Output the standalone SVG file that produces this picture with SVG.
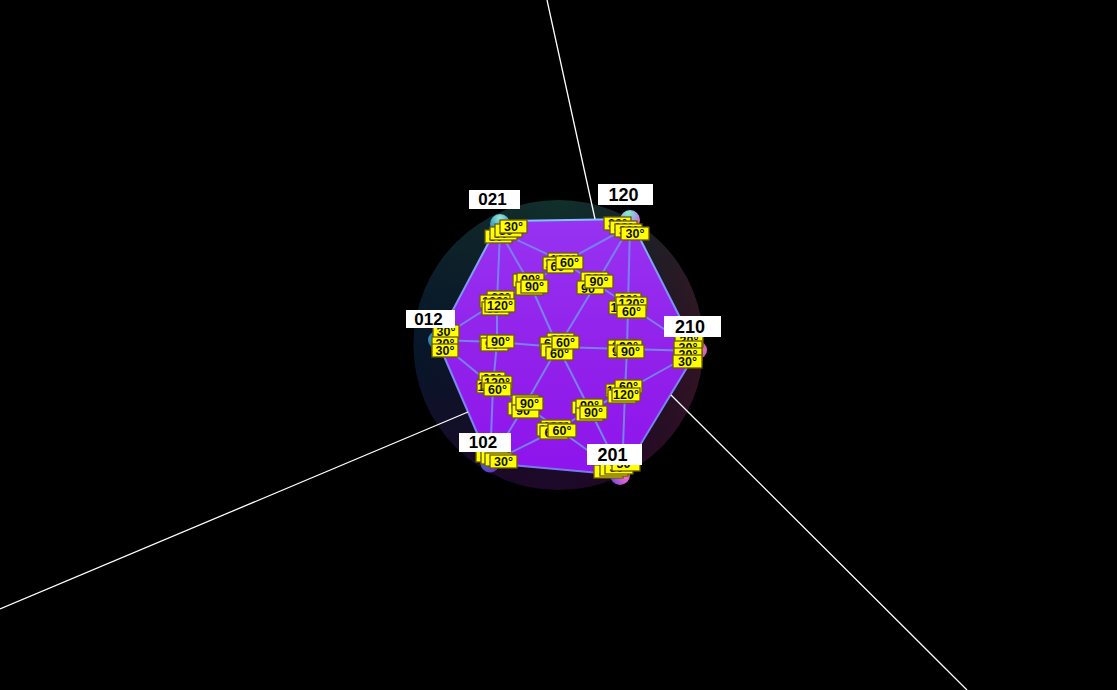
<svg xmlns="http://www.w3.org/2000/svg" width="1117" height="690" viewBox="0 0 1117 690">
<style>
.e{stroke:#7880f2;stroke-width:2;fill:none}
.w{stroke:#fff;stroke-width:1.3;fill:none}
.y rect{fill:#ff0;stroke:#6a5a10;stroke-width:1.300;height:13px}
.y text{font:bold 12.500px "Liberation Sans",Arial,sans-serif;fill:#111;text-anchor:middle}
.n rect{fill:#fff}
.n text{font:bold 17px "Liberation Sans",Arial,sans-serif;fill:#000;text-anchor:middle}
.n text.b{font-size:18px}
</style>
<defs>
<linearGradient id="v" x1="0" y1="0" x2="0" y2="1"><stop offset="0" stop-color="#10302b"/><stop offset=".5" stop-color="#0a1a26"/><stop offset="1" stop-color="#1e0828"/></linearGradient>
<linearGradient id="h" x1="0" y1="0" x2="1" y2="0"><stop offset="0" stop-color="#001030" stop-opacity=".35"/><stop offset=".5" stop-color="#200020" stop-opacity="0"/><stop offset="1" stop-color="#501020" stop-opacity=".55"/></linearGradient>
<linearGradient id="p" x1="0" y1="0" x2="0" y2="1"><stop offset="0" stop-color="#9733f2"/><stop offset=".5" stop-color="#9222ea"/><stop offset="1" stop-color="#8e14ec"/></linearGradient>
<linearGradient id="o" x1="0" y1="0" x2="0" y2="1"><stop offset="0" stop-color="#80c0f8"/><stop offset=".25" stop-color="#7c98f4"/><stop offset="1" stop-color="#7878f0"/></linearGradient>
<radialGradient id="s1" cx=".5" cy=".2" r=".8"><stop offset="0" stop-color="#a0e8d8"/><stop offset=".6" stop-color="#40a8c8"/><stop offset="1" stop-color="#4070c0"/></radialGradient>
<radialGradient id="s2" cx=".4" cy=".15" r=".8"><stop offset="0" stop-color="#80f0c8"/><stop offset=".55" stop-color="#a0a0e8"/><stop offset="1" stop-color="#f060b0"/></radialGradient>
<radialGradient id="s3" cx=".3" cy=".4" r=".8"><stop offset="0" stop-color="#30a0b0"/><stop offset="1" stop-color="#3050c0"/></radialGradient>
<radialGradient id="s4" cx=".7" cy=".5" r=".8"><stop offset="0" stop-color="#f070b0"/><stop offset="1" stop-color="#9040d0"/></radialGradient>
<radialGradient id="s5" cx=".3" cy=".5" r=".8"><stop offset="0" stop-color="#3070d0"/><stop offset="1" stop-color="#8020c0"/></radialGradient>
<radialGradient id="s6" cx=".8" cy=".6" r=".9"><stop offset="0" stop-color="#f070c0"/><stop offset=".6" stop-color="#a050e0"/><stop offset="1" stop-color="#4040d0"/></radialGradient>
</defs>
<rect width="1117" height="690" fill="#000"/>
<g id="sphere">
<circle cx="558.500" cy="345" r="145" fill="url(#v)"/>
<circle cx="558.500" cy="345" r="145" fill="url(#h)"/>
</g>
<g id="spheres">
<circle cx="500" cy="224" r="10" fill="url(#s1)"/>
<circle cx="630" cy="220" r="10" fill="url(#s2)"/>
<circle cx="437" cy="340" r="9" fill="url(#s3)"/>
<circle cx="698" cy="350" r="9" fill="url(#s4)"/>
<circle cx="490" cy="463" r="9.500" fill="url(#s5)"/>
<circle cx="620" cy="475" r="10" fill="url(#s6)"/>
</g>
<g id="face">
<path d="M500 221L630 219L697 351L622 475L490 463L437 340Z" fill="url(#p)" stroke="url(#o)" stroke-width="2" stroke-linejoin="round"/>
</g>
<g id="connectors">
<path class="w" d="M547 0L595 219M0 609L468 412M967 690L671 395"/>
<path class="e" d="M500 232L497 302M500 232L530 284M500 232L564 262M630 226L564 262M630 226L596 284M630 226L628 305M437 340L497 302M437 340L497 342M437 340L493 386M697 351L628 305M697 351L627 349M697 351L625 391M490 463L493 386M490 463L525 405M490 463L558 429M622 475L558 429M622 475L590 410M622 475L625 391M497 302V342L493 386M628 305L627 349L625 391M497 342L558 347L627 349M530 284L558 347M596 284L558 347M525 405L558 347M590 410L558 347M564 262L530 284M564 262L596 284M596 284L628 305M497 302L530 284M493 386L525 405M525 405L558 429M590 410L558 429M590 410L625 391"/>
</g>
<g id="v021" class="y">
<rect x="485" y="230" width="27" height="13"/><text x="498.500" y="240.500">30°</text>
<rect x="490" y="227" width="27" height="13"/><text x="503.500" y="237.500">30°</text>
<rect x="495" y="224" width="27" height="13"/><text x="508.500" y="234.500">30°</text>
<rect x="500" y="220" width="27" height="13"/><text x="513.500" y="230.500">30°</text>
</g>
<g id="v120" class="y">
<rect x="604" y="217" width="27" height="13"/><text x="617.500" y="227.500">30°</text>
<rect x="610" y="221" width="27" height="13"/><text x="623.500" y="231.500">30°</text>
<rect x="615" y="224" width="27" height="13"/><text x="628.500" y="234.500">30°</text>
<rect x="621" y="227" width="28" height="13"/><text x="635" y="238">30°</text>
</g>
<g id="v012" class="y">
<rect x="433" y="325" width="26" height="13"/><text x="446" y="335.500">30°</text>
<rect x="432" y="337" width="26" height="13"/><text x="445" y="347.500">30°</text>
<rect x="432" y="344" width="26" height="13"/><text x="445" y="354.500">30°</text>
</g>
<g id="v210" class="y">
<rect x="675" y="334" width="28" height="13"/><text x="689" y="344.500">30°</text>
<rect x="674" y="341" width="28" height="13"/><text x="688" y="351.500">30°</text>
<rect x="674" y="348" width="28" height="13"/><text x="688" y="358.500">30°</text>
<rect x="673" y="355" width="29" height="13"/><text x="687.500" y="365.500">30°</text>
</g>
<g id="v102" class="y">
<rect x="476" y="449" width="27" height="13"/><text x="489.500" y="459.500">30°</text>
<rect x="481" y="451" width="27" height="13"/><text x="494.500" y="461.500">30°</text>
<rect x="485" y="453" width="27" height="13"/><text x="498.500" y="463.500">30°</text>
<rect x="490" y="455" width="27" height="13"/><text x="503.500" y="465.500">30°</text>
</g>
<g id="v201" class="y">
<rect x="594" y="465" width="29" height="13"/><text x="608.500" y="475.500">30°</text>
<rect x="600" y="463" width="28" height="13"/><text x="614" y="473.500">30°</text>
<rect x="605" y="461" width="28" height="13"/><text x="619" y="471.500">30°</text>
<rect x="612" y="458" width="28" height="13"/><text x="626" y="467.500">30°</text>
</g>
<g id="cA" class="y">
<rect x="548" y="253" width="30" height="13"/><text x="563" y="263.500">120°</text>
<rect x="543" y="257" width="30" height="13"/><text x="558" y="267.500">120°</text>
<rect x="547" y="260" width="27" height="13"/><text x="560" y="270.500">60°</text>
<rect x="556" y="256" width="27" height="13"/><text x="569.500" y="266.500">60°</text>
</g>
<g id="cB" class="y">
<rect x="513" y="274" width="27" height="13"/><text x="526.500" y="284.500">90°</text>
<rect x="517" y="273" width="27" height="13"/><text x="530.500" y="283.500">90°</text>
<rect x="516" y="282" width="27" height="13"/><text x="529.500" y="292.500">90°</text>
<rect x="521" y="280" width="27" height="13"/><text x="534.500" y="290.500">90°</text>
</g>
<g id="cC" class="y">
<rect x="581" y="272" width="27" height="13"/><text x="594.500" y="282.500">90°</text>
<rect x="577" y="281" width="27" height="13"/><text x="590.500" y="292.500">90°</text>
<rect x="585" y="275" width="28" height="13"/><text x="599" y="285.500">90°</text>
</g>
<g id="cD" class="y">
<rect x="487" y="291" width="27" height="13"/><text x="500.500" y="301.500">60°</text>
<rect x="480" y="295" width="30" height="13"/><text x="495" y="305.500">120°</text>
<rect x="482" y="302" width="27" height="13"/><text x="495.500" y="312.500">60°</text>
<rect x="485" y="299" width="30" height="13"/><text x="500" y="309.500">120°</text>
</g>
<g id="cE" class="y">
<rect x="615" y="293" width="26" height="13"/><text x="628" y="303.500">60°</text>
<rect x="609" y="301" width="29" height="13"/><text x="623.500" y="311.500">120°</text>
<rect x="616" y="297" width="31" height="13"/><text x="631.500" y="307.500">120°</text>
<rect x="617" y="305" width="29" height="13"/><text x="631.500" y="315.500">60°</text>
</g>
<g id="cF" class="y">
<rect x="480" y="335" width="27" height="13"/><text x="493.500" y="345.500">90°</text>
<rect x="481" y="338" width="27" height="13"/><text x="494.500" y="348.500">90°</text>
<rect x="487" y="335" width="27" height="13"/><text x="500.500" y="345.500">90°</text>
</g>
<g id="cG" class="y">
<rect x="547" y="333" width="27" height="13"/><text x="560.500" y="343.500">60°</text>
<rect x="540" y="337" width="27" height="13"/><text x="553.500" y="347.500">60°</text>
<rect x="541" y="344" width="27" height="13"/><text x="554.500" y="354.500">60°</text>
<rect x="546" y="347" width="27" height="13"/><text x="559.500" y="357.500">60°</text>
<rect x="552" y="336" width="27" height="13"/><text x="565.500" y="346.500">60°</text>
</g>
<g id="cH" class="y">
<rect x="608" y="340" width="27" height="13"/><text x="621.500" y="350.500">90°</text>
<rect x="608" y="345" width="27" height="13"/><text x="621.500" y="355.500">90°</text>
<rect x="615" y="340" width="27" height="13"/><text x="628.500" y="350.500">90°</text>
<rect x="617" y="345" width="27" height="13"/><text x="630.500" y="355.500">90°</text>
</g>
<g id="cI" class="y">
<rect x="479" y="372" width="26" height="13"/><text x="492" y="382.500">60°</text>
<rect x="477" y="380" width="27" height="13"/><text x="490.500" y="390.500">120°</text>
<rect x="482" y="376" width="30" height="13"/><text x="497" y="386.500">120°</text>
<rect x="484" y="383" width="27" height="13"/><text x="497.500" y="393.500">60°</text>
</g>
<g id="cJ" class="y">
<rect x="606" y="384" width="27" height="13"/><text x="619.500" y="394.500">120°</text>
<rect x="608" y="390" width="28" height="13"/><text x="622" y="400.500">60°</text>
<rect x="615" y="380" width="27" height="13"/><text x="628.500" y="390.500">60°</text>
<rect x="612" y="388" width="28" height="13"/><text x="626" y="398.500">120°</text>
</g>
<g id="cK" class="y">
<rect x="508" y="402" width="27" height="13"/><text x="521.500" y="412.500">90°</text>
<rect x="512" y="395" width="27" height="13"/><text x="525.500" y="405.500">90°</text>
<rect x="512" y="405" width="27" height="13"/><text x="525.500" y="414.500">90°</text>
<rect x="516" y="397" width="27" height="13"/><text x="529.500" y="407.500">90°</text>
</g>
<g id="cL" class="y">
<rect x="572" y="401" width="27" height="13"/><text x="585.500" y="411.500">90°</text>
<rect x="576" y="399" width="27" height="13"/><text x="589.500" y="409.500">90°</text>
<rect x="576" y="408" width="27" height="13"/><text x="589.500" y="416.500">90°</text>
<rect x="580" y="406" width="27" height="13"/><text x="593.500" y="416.500">90°</text>
</g>
<g id="cM" class="y">
<rect x="541" y="420" width="30" height="13"/><text x="556" y="430.500">120°</text>
<rect x="537" y="423" width="30" height="13"/><text x="552" y="433.500">120°</text>
<rect x="540" y="426" width="28" height="13"/><text x="554" y="436.500">60°</text>
<rect x="548" y="424" width="28" height="13"/><text x="562" y="434.500">60°</text>
</g>
<g id="n021" class="n"><rect x="469" y="190" width="51" height="19"/><text x="492.500" y="204.500">021</text></g>
<g id="n120" class="n"><rect x="598" y="184" width="55" height="21"/><text class="b" x="623.500" y="200.500">120</text></g>
<g id="n012" class="n"><rect x="406" y="310" width="49" height="18"/><text x="428.500" y="325">012</text></g>
<g id="n210" class="n"><rect x="664" y="316" width="57" height="21"/><text class="b" x="690" y="332.500">210</text></g>
<g id="n102" class="n"><rect x="459" y="433" width="52" height="19"/><text x="483" y="448">102</text></g>
<g id="n201" class="n"><rect x="587" y="444" width="55" height="21"/><text class="b" x="612.500" y="460.500">201</text></g>
</svg>
